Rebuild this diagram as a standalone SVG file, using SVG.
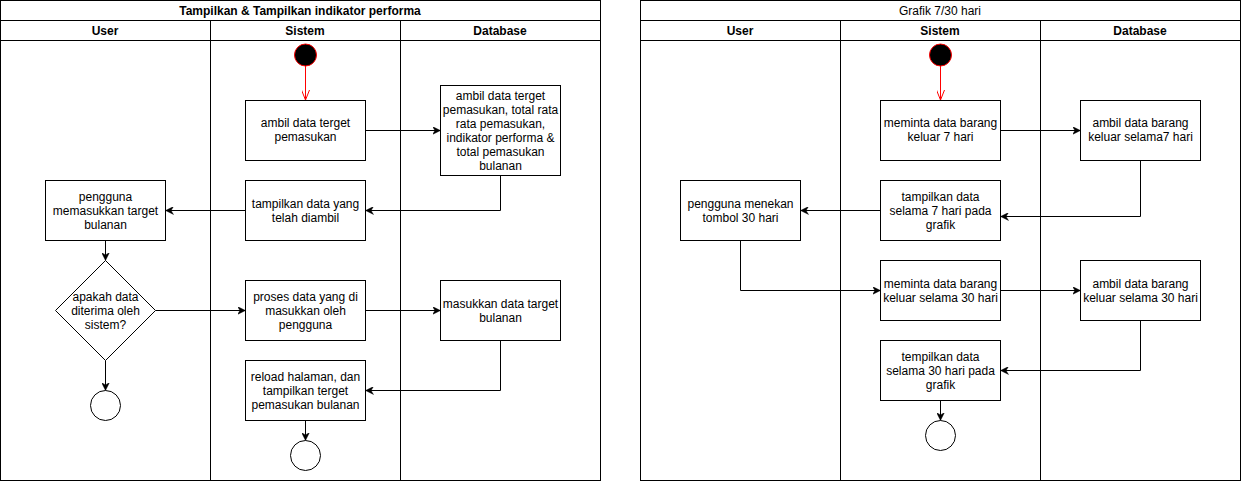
<svg xmlns="http://www.w3.org/2000/svg" width="1241" height="481" viewBox="0 0 1241 481">
<style>
  .pool { fill: #ffffff; stroke: #000000; stroke-width: 1; }
  .ln { stroke: #000000; stroke-width: 1; fill: none; }
  .box { fill: #ffffff; stroke: #000000; stroke-width: 1; }
  .t { font-family: "Liberation Sans", Arial, Helvetica, sans-serif; font-size: 12px; fill: #000000; text-anchor: middle; }
  .b { font-weight: bold; }
  .c { stroke: #000000; stroke-width: 1; fill: none; marker-end: url(#arr); }
  .cr { stroke: #ff0000; stroke-width: 1; fill: none; marker-end: url(#open); }
  .start { fill: #000000; stroke: #ff0000; stroke-width: 1; }
  .end { fill: #ffffff; stroke: #000000; stroke-width: 1; }
</style>
<defs>
  <marker id="arr" viewBox="0 0 10 10" markerWidth="8" markerHeight="8" refX="10" refY="5" orient="auto" markerUnits="userSpaceOnUse">
    <path d="M0,0 L10,5 L0,10 L3,5 Z" fill="#000000" stroke="#000000" stroke-width="0.5"/>
  </marker>
  <marker id="open" viewBox="0 0 10 8" markerWidth="10" markerHeight="8" refX="10" refY="4" orient="auto" markerUnits="userSpaceOnUse">
    <path d="M0,0 L10,4 L0,8" fill="none" stroke="#ff0000" stroke-width="1"/>
  </marker>
</defs>
<rect width="1241" height="481" fill="#ffffff"/>

<!-- Left pool -->
<g id="pool-left">
  <rect class="pool" x="0.5" y="0.5" width="600" height="480"/>
  <line class="ln" x1="0.5" y1="20.5" x2="600.5" y2="20.5"/>
  <line class="ln" x1="0.5" y1="40.5" x2="600.5" y2="40.5"/>
  <line class="ln" x1="210.5" y1="20.5" x2="210.5" y2="480.5"/>
  <line class="ln" x1="400.5" y1="20.5" x2="400.5" y2="480.5"/>
  <text class="t b" x="300" y="14.5">Tampilkan &amp; Tampilkan indikator performa</text>
  <text class="t b" x="105" y="34.5">User</text>
  <text class="t b" x="305" y="34.5">Sistem</text>
  <text class="t b" x="500" y="34.5">Database</text>
</g>

<!-- Right pool -->
<g id="pool-right">
  <rect class="pool" x="640.5" y="0.5" width="600" height="480"/>
  <line class="ln" x1="640.5" y1="20.5" x2="1240.5" y2="20.5"/>
  <line class="ln" x1="640.5" y1="40.5" x2="1240.5" y2="40.5"/>
  <line class="ln" x1="840.5" y1="20.5" x2="840.5" y2="480.5"/>
  <line class="ln" x1="1040.5" y1="20.5" x2="1040.5" y2="480.5"/>
  <text class="t" x="940" y="14.5">Grafik 7/30 hari</text>
  <text class="t b" x="740" y="34.5">User</text>
  <text class="t b" x="940" y="34.5">Sistem</text>
  <text class="t b" x="1140" y="34.5">Database</text>
</g>

<!-- Connectors -->
<g id="connectors">
  <path class="cr" d="M305.5,66 L305.5,100"/>
  <path class="c" d="M365.5,130.5 L440.5,130.5"/>
  <path class="c" d="M500.5,175.5 L500.5,210.5 L365.5,210.5"/>
  <path class="c" d="M245.5,210.5 L165.5,210.5"/>
  <path class="c" d="M105.5,240.5 L105.5,260.5"/>
  <path class="c" d="M155.5,310.5 L245.5,310.5"/>
  <path class="c" d="M365.5,310.5 L440.5,310.5"/>
  <path class="c" d="M500.5,340.5 L500.5,390.5 L365.5,390.5"/>
  <path class="c" d="M105.5,360.5 L105.5,390.5"/>
  <path class="c" d="M305.5,420.5 L305.5,440.5"/>

  <path class="cr" d="M940.5,66 L940.5,100"/>
  <path class="c" d="M1000.5,130.5 L1080.5,130.5"/>
  <path class="c" d="M1140.5,160.5 L1140.5,216.5 L1000.5,216.5"/>
  <path class="c" d="M880.5,210.5 L800.5,210.5"/>
  <path class="c" d="M740.5,240.5 L740.5,290.5 L880.5,290.5"/>
  <path class="c" d="M1000.5,290.5 L1080.5,290.5"/>
  <path class="c" d="M1140.5,320.5 L1140.5,370.5 L1000.5,370.5"/>
  <path class="c" d="M940.5,400.5 L940.5,420.5"/>
</g>

<!-- Left nodes -->
<g id="start-left"><circle class="start" cx="305.5" cy="55" r="11"/></g>
<g id="n-ambil-target">
  <rect class="box" x="245.5" y="100.5" width="120" height="60"/>
  <text class="t" x="305.5" y="127">ambil data terget</text>
  <text class="t" x="305.5" y="141">pemasukan</text>
</g>
<g id="n-db-ambil">
  <rect class="box" x="440.5" y="85.5" width="120" height="90"/>
  <text class="t" x="500.5" y="99.5">ambil data terget</text>
  <text class="t" x="500.5" y="113.5">pemasukan, total rata</text>
  <text class="t" x="500.5" y="127.5">rata pemasukan,</text>
  <text class="t" x="500.5" y="141.5">indikator performa &amp;</text>
  <text class="t" x="500.5" y="155.5">total pemasukan</text>
  <text class="t" x="500.5" y="169.5">bulanan</text>
</g>
<g id="n-tampilkan">
  <rect class="box" x="245.5" y="180.5" width="120" height="60"/>
  <text class="t" x="305.5" y="207.5">tampilkan data yang</text>
  <text class="t" x="305.5" y="221.5">telah diambil</text>
</g>
<g id="n-pengguna-input">
  <rect class="box" x="45.5" y="180.5" width="120" height="60"/>
  <text class="t" x="105.5" y="200.5">pengguna</text>
  <text class="t" x="105.5" y="214.5">memasukkan target</text>
  <text class="t" x="105.5" y="228.5">bulanan</text>
</g>
<g id="n-decision">
  <polygon class="box" points="105.5,260.5 155.5,310.5 105.5,360.5 55.5,310.5"/>
  <text class="t" x="105.5" y="300.5">apakah data</text>
  <text class="t" x="105.5" y="314.5">diterima oleh</text>
  <text class="t" x="105.5" y="328.5">sistem?</text>
</g>
<g id="n-proses">
  <rect class="box" x="245.5" y="280.5" width="120" height="60"/>
  <text class="t" x="305.5" y="300.5">proses data yang di</text>
  <text class="t" x="305.5" y="314.5">masukkan oleh</text>
  <text class="t" x="305.5" y="328.5">pengguna</text>
</g>
<g id="n-db-masukkan">
  <rect class="box" x="440.5" y="280.5" width="120" height="60"/>
  <text class="t" x="500.5" y="308">masukkan data target</text>
  <text class="t" x="500.5" y="322">bulanan</text>
</g>
<g id="n-reload">
  <rect class="box" x="245.5" y="360.5" width="120" height="60"/>
  <text class="t" x="305.5" y="380.5">reload halaman, dan</text>
  <text class="t" x="305.5" y="394.5">tampilkan terget</text>
  <text class="t" x="305.5" y="408.5">pemasukan bulanan</text>
</g>
<g id="end-left-user"><circle class="end" cx="105.5" cy="405.5" r="15"/></g>
<g id="end-left-sistem"><circle class="end" cx="305.5" cy="455.5" r="15"/></g>

<!-- Right nodes -->
<g id="start-right"><circle class="start" cx="940.5" cy="55" r="11"/></g>
<g id="m-minta7">
  <rect class="box" x="880.5" y="100.5" width="120" height="60"/>
  <text class="t" x="940.5" y="127">meminta data barang</text>
  <text class="t" x="940.5" y="141">keluar 7 hari</text>
</g>
<g id="m-db-ambil7">
  <rect class="box" x="1080.5" y="100.5" width="120" height="60"/>
  <text class="t" x="1140.5" y="127">ambil data barang</text>
  <text class="t" x="1140.5" y="141">keluar selama7 hari</text>
</g>
<g id="m-tampil7">
  <rect class="box" x="880.5" y="180.5" width="120" height="60"/>
  <text class="t" x="940.5" y="200.5">tampilkan data</text>
  <text class="t" x="940.5" y="214.5">selama 7 hari pada</text>
  <text class="t" x="940.5" y="228.5">grafik</text>
</g>
<g id="m-pengguna30">
  <rect class="box" x="680.5" y="180.5" width="120" height="60"/>
  <text class="t" x="740.5" y="207.5">pengguna menekan</text>
  <text class="t" x="740.5" y="221.5">tombol 30 hari</text>
</g>
<g id="m-minta30">
  <rect class="box" x="880.5" y="260.5" width="120" height="60"/>
  <text class="t" x="940.5" y="287.5">meminta data barang</text>
  <text class="t" x="940.5" y="301.5">keluar selama 30 hari</text>
</g>
<g id="m-db-ambil30">
  <rect class="box" x="1080.5" y="260.5" width="120" height="60"/>
  <text class="t" x="1140.5" y="287.5">ambil data barang</text>
  <text class="t" x="1140.5" y="301.5">keluar selama 30 hari</text>
</g>
<g id="m-tampil30">
  <rect class="box" x="880.5" y="340.5" width="120" height="60"/>
  <text class="t" x="940.5" y="360.5">tempilkan data</text>
  <text class="t" x="940.5" y="374.5">selama 30 hari pada</text>
  <text class="t" x="940.5" y="388.5">grafik</text>
</g>
<g id="end-right"><circle class="end" cx="940.5" cy="435.5" r="15"/></g>
</svg>
